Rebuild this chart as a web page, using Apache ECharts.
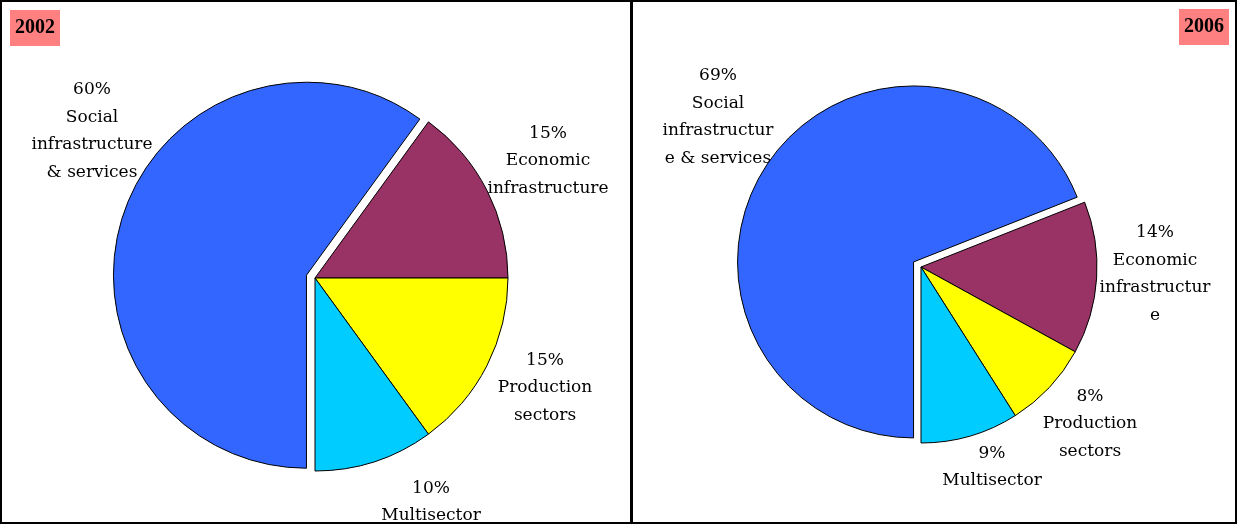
<!DOCTYPE html>
<html>
<head>
<meta charset="utf-8">
<script src="https://cdn.jsdelivr.net/npm/echarts@6/dist/echarts.min.js"></script>
<style>
html,body{margin:0;padding:0;background:#fff;}
#chart{width:1238px;height:526px;}
</style>
</head>
<body>
<div id="chart"></div>
<script>
// ---- data ----
var categories = ['Social infrastructure & services', 'Economic infrastructure', 'Production sectors', 'Multisector'];
var years = ['2002', '2006'];
var values2002 = [60, 15, 15, 10];
var values2006 = [69, 14, 8, 9];
var labels2002 = ['Social\ninfrastructure\n& services', 'Economic\ninfrastructure', 'Production\nsectors', 'Multisector'];
var labels2006 = ['Social\ninfrastructur\ne & services', 'Economic\ninfrastructur\ne', 'Production\nsectors', 'Multisector'];

// ---- styles / layout ----
var colors = ['#3366FF', '#993366', '#FFFF00', '#00CCFF'];
var font = '"DejaVu Serif", serif';
var layout2002 = {center: [315, 278], r: 193, offs: [[-223, -147], [233, -117], [230, 110], [116, 224]]};
var layout2006 = {center: [921, 267], r: 176, offs: [[-203, -150], [234, 7], [169, 157], [71, 200]]};

function sliceSeries(name, values, lay) {
  return {
    type: 'pie',
    name: name,
    center: lay.center,
    radius: lay.r,
    startAngle: -90,
    clockwise: true,
    selectedMode: 'single',
    selectedOffset: 9,
    avoidLabelOverlap: false,
    animation: false,
    silent: true,
    itemStyle: {borderColor: '#000', borderWidth: 1},
    select: {itemStyle: {borderColor: '#000', borderWidth: 1}},
    emphasis: {disabled: true},
    label: {show: false},
    labelLine: {show: false},
    data: values.map(function (v, i) {
      return {name: categories[i], value: v, selected: i === 0, itemStyle: {color: colors[i]}, select: {itemStyle: {color: colors[i]}}};
    })
  };
}

function labelSeries(name, values, labels, lay) {
  return {
    type: 'pie',
    name: name + ' labels',
    center: lay.center,
    radius: lay.r,
    startAngle: -90,
    clockwise: true,
    selectedMode: false,
    avoidLabelOverlap: false,
    animation: false,
    silent: true,
    z: 1,
    itemStyle: {color: 'rgba(0,0,0,0)', borderWidth: 0},
    emphasis: {disabled: true},
    label: {
      show: true,
      position: 'outside',
      color: '#000',
      fontFamily: font,
      fontSize: 17,
      lineHeight: 27.5,
      align: 'center',
      formatter: function (p) { return p.value + '%\n' + labels[p.dataIndex]; }
    },
    labelLine: {show: false},
    labelLayout: function (p) {
      var o = lay.offs[p.dataIndex];
      return {x: lay.center[0] + o[0], y: lay.center[1] + o[1], align: 'center', verticalAlign: 'middle'};
    },
    data: values.map(function (v, i) { return {name: categories[i], value: v}; })
  };
}

var chart = echarts.init(document.getElementById('chart'), null, {renderer: 'canvas'});
chart.setOption({
  backgroundColor: '#fff',
  title: [
    {text: years[0], left: 10, top: 10, padding: [8, 5, 8, 5], backgroundColor: '#FF8080',
     textStyle: {fontFamily: '"Liberation Serif", serif', fontWeight: 'bold', fontSize: 20, color: '#000', lineHeight: 20}},
    {text: years[1], right: 9, top: 9, padding: [8, 5, 8, 5], backgroundColor: '#FF8080',
     textStyle: {fontFamily: '"Liberation Serif", serif', fontWeight: 'bold', fontSize: 20, color: '#000', lineHeight: 20}}
  ],
  graphic: [
    {type: 'rect', shape: {x: 1, y: 1, width: 630, height: 522}, style: {fill: null, stroke: '#000', lineWidth: 2}, z: 100},
    {type: 'rect', shape: {x: 632, y: 1, width: 604, height: 522}, style: {fill: null, stroke: '#000', lineWidth: 2}, z: 100}
  ],
  series: [
    sliceSeries(years[0], values2002, layout2002),
    sliceSeries(years[1], values2006, layout2006),
    labelSeries(years[0], values2002, labels2002, layout2002),
    labelSeries(years[1], values2006, labels2006, layout2006)
  ]
});
</script>
</body>
</html>
